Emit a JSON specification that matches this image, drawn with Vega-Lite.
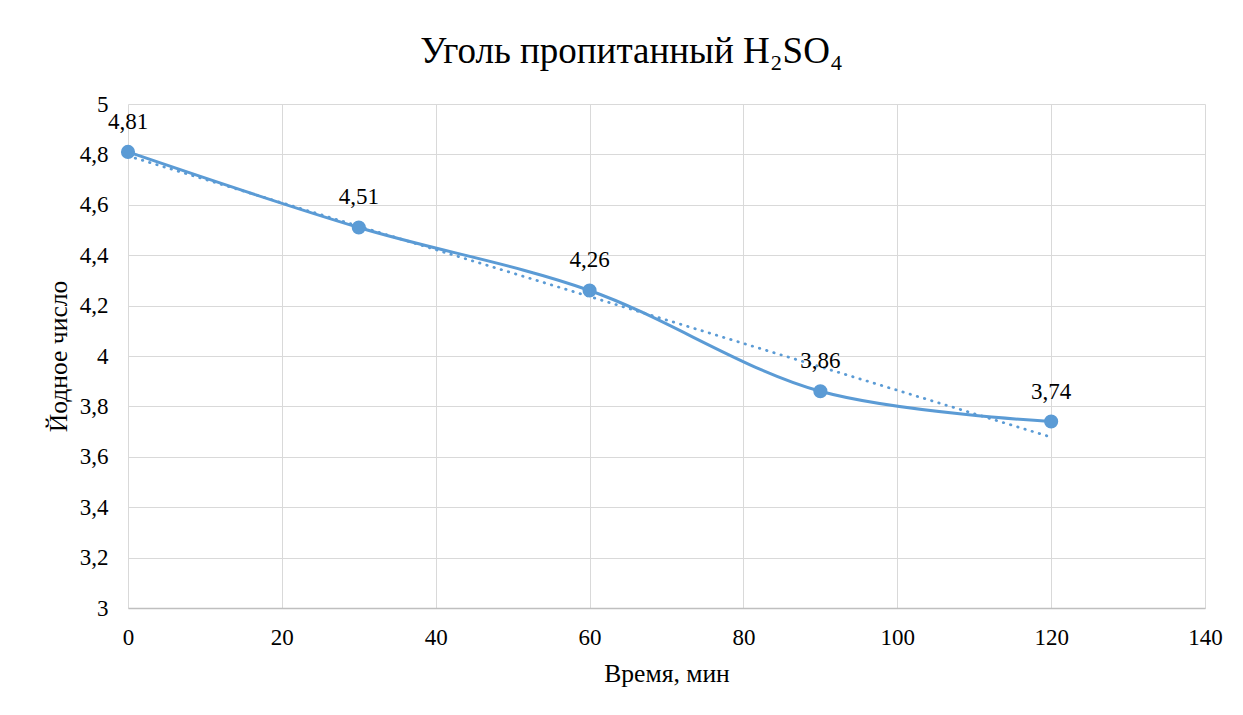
{
  "$schema": "https://vega.github.io/schema/vega-lite/v6.json",
  "autosize": {"type": "none"},
  "width": 1077,
  "height": 504,
  "padding": {"left": 128, "top": 104, "right": 38, "bottom": 107},
  "background": "white",
  "config": {
    "view": {"stroke": null},
    "font": "Liberation Serif",
    "axis": {"labelFont": "Liberation Serif", "titleFont": "Liberation Serif"},
    "text": {"font": "Liberation Serif"}
  },
  "title": {
    "text": "Уголь пропитанный H₂SO₄",
    "font": "Liberation Serif",
    "fontSize": 37,
    "fontWeight": "normal",
    "color": "#000000",
    "anchor": "middle",
    "frame": "group",
    "baseline": "alphabetic",
    "offset": -7,
    "dx": -35
  },
  "data": {
    "values": [
      {"t": 0, "v": 4.81},
      {"t": 30, "v": 4.51},
      {"t": 60, "v": 4.26},
      {"t": 90, "v": 3.86},
      {"t": 120, "v": 3.74}
    ]
  },
  "encoding": {
    "x": {
      "field": "t", "type": "quantitative",
      "scale": {"domain": [0, 140], "nice": false, "zero": false},
      "axis": {
        "title": "Время, мин",
        "values": [0, 20, 40, 60, 80, 100, 120, 140],
        "labelExpr": "'' + datum.value",
        "ticks": false,
        "labelFlush": false,
        "labelPadding": 18,
        "labelFont": "Liberation Serif", "labelFontSize": 23, "labelFontWeight": "normal", "labelColor": "#000000",
        "titleFont": "Liberation Serif", "titleFontSize": 25.6, "titleFontWeight": "normal", "titleColor": "#000000",
        "titlePadding": 12,
        "grid": true, "gridColor": "#D9D9D9", "gridWidth": 1,
        "domainColor": "#BFBFBF", "domainWidth": 1.5
      }
    },
    "y": {
      "field": "v", "type": "quantitative",
      "scale": {"domain": [3, 5], "nice": false, "zero": false},
      "axis": {
        "title": "Йодное число",
        "values": [3, 3.2, 3.4, 3.6, 3.8, 4, 4.2, 4.4, 4.6, 4.8, 5],
        "labelExpr": "replace(format(datum.value, '.1~f'), '.', ',')",
        "ticks": false,
        "domain": false,
        "labelFlush": false,
        "labelPadding": 20,
        "labelFont": "Liberation Serif", "labelFontSize": 23, "labelFontWeight": "normal", "labelColor": "#000000",
        "titleFont": "Liberation Serif", "titleFontSize": 25.6, "titleFontWeight": "normal", "titleColor": "#000000",
        "titlePadding": 8,
        "grid": true, "gridColor": "#D9D9D9", "gridWidth": 1
      }
    }
  },
  "layer": [
    {
      "mark": {"type": "line", "interpolate": "catmull-rom", "color": "#5B9BD5", "strokeWidth": 3}
    },
    {
      "transform": [{"regression": "v", "on": "t", "method": "linear", "extent": [0, 120]}],
      "mark": {"type": "line", "color": "#5B9BD5", "strokeWidth": 2.75, "strokeCap": "round", "strokeDash": [0.5, 7]}
    },
    {
      "mark": {"type": "point", "filled": true, "opacity": 1, "color": "#5B9BD5", "size": 200}
    },
    {
      "transform": [{"calculate": "replace(format(datum.v, '.2f'), '.', ',')", "as": "lbl"}],
      "mark": {"type": "text", "font": "Liberation Serif", "fontSize": 23, "fontWeight": "normal", "color": "#000000", "baseline": "alphabetic", "dy": -23},
      "encoding": {"text": {"field": "lbl", "type": "nominal"}}
    }
  ]
}
